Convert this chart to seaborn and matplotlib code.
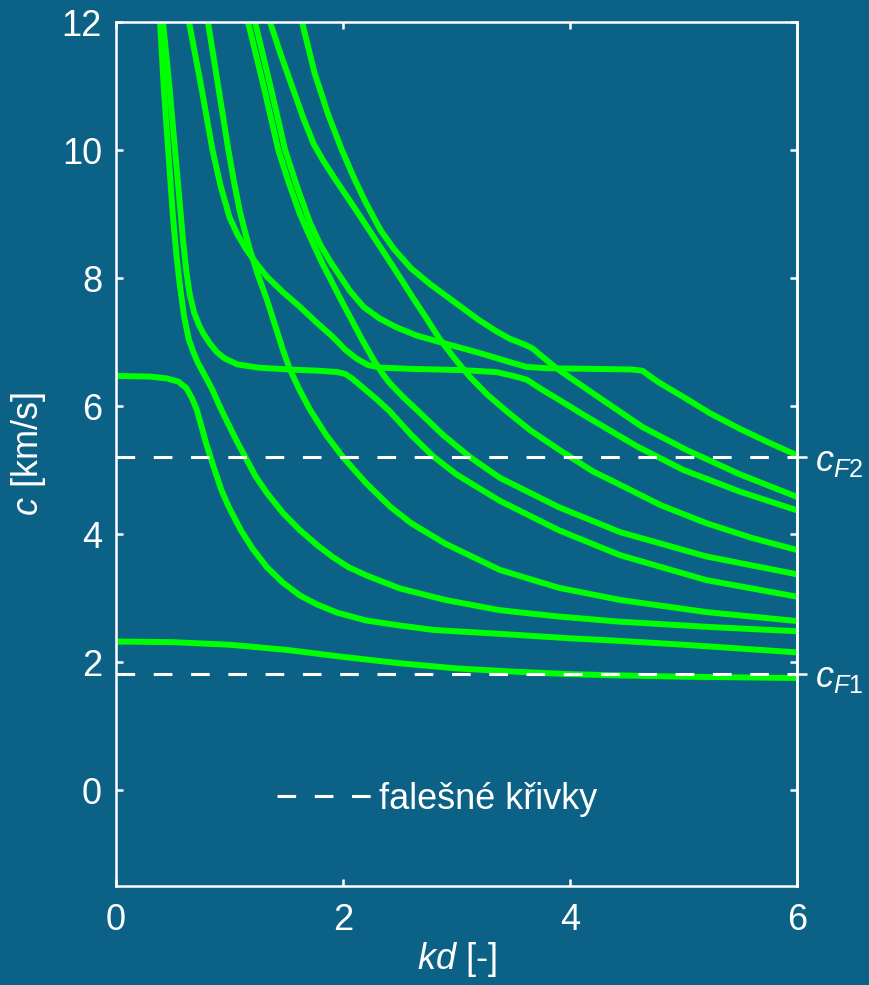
import matplotlib
matplotlib.use("Agg")
import numpy as np
import pandas as pd
import seaborn as sns
import matplotlib.pyplot as plt
from matplotlib import font_manager as fm
from matplotlib.lines import Line2D

# ---------------- data ----------------
kd_1 = [0, 0.5, 1.0, 1.5, 2.0, 2.5, 3.0, 3.5, 4.0, 4.44, 5.0, 6.0]
c_1 = [2.32, 2.31, 2.27, 2.19, 2.08, 1.98, 1.9, 1.85, 1.81, 1.79, 1.77, 1.75]

kd_2 = [0, 0.3, 0.45, 0.55, 0.62, 0.67, 0.71, 0.75, 0.8, 0.86, 0.93, 1.0, 1.1, 1.2,
        1.33, 1.47, 1.62, 1.77, 1.95, 2.2, 2.5, 2.8, 3.38, 4.0, 4.44, 5.0, 5.5, 6.0]
c_2 = [6.47, 6.46, 6.43, 6.38, 6.28, 6.12, 5.95, 5.7, 5.38, 5.05, 4.68, 4.4, 4.06, 3.78,
       3.48, 3.24, 3.04, 2.9, 2.77, 2.65, 2.57, 2.5, 2.44, 2.37, 2.33, 2.27, 2.21, 2.15]

kd_3 = [0.388, 0.42, 0.46, 0.5, 0.53, 0.56, 0.6, 0.64, 0.68, 0.72, 0.76, 0.8, 0.85, 0.92,
        1.0, 1.07, 1.14, 1.23, 1.33, 1.47, 1.62, 1.77, 1.91, 2.05, 2.21, 2.5, 2.9, 3.38,
        3.9, 4.44, 5.2, 6.0]
c_3 = [12, 11, 10, 9.0, 8.4, 7.92, 7.4, 7.05, 6.85, 6.68, 6.55, 6.42, 6.25, 5.97,
       5.68, 5.43, 5.2, 4.9, 4.64, 4.33, 4.06, 3.83, 3.64, 3.48, 3.35, 3.15, 2.97, 2.81,
       2.71, 2.63, 2.55, 2.48]

kd_4 = [0.414, 0.47, 0.52, 0.56, 0.59, 0.62, 0.65, 0.69, 0.73, 0.77, 0.83, 0.89, 0.96,
        1.07, 1.25, 1.53, 1.8, 1.95, 2.02, 2.08, 2.18, 2.3, 2.41, 2.6, 2.79, 3.0, 3.38,
        3.9, 4.44, 5.2, 6.0]
c_4 = [12, 11, 10, 9.2, 8.6, 8.1, 7.74, 7.45, 7.27, 7.13, 6.97, 6.84, 6.74,
       6.65, 6.6, 6.57, 6.55, 6.53, 6.5, 6.43, 6.28, 6.1, 5.92, 5.55, 5.22, 4.93, 4.52,
       4.06, 3.67, 3.28, 3.02]

kd_5 = [0.643, 0.75, 0.85, 0.92, 1.0, 1.07, 1.15, 1.24, 1.33, 1.47, 1.62, 1.77, 1.91,
        2.02, 2.12, 2.22, 2.33, 2.6, 3.06, 3.35, 3.5, 3.62, 3.75, 3.91, 4.13, 4.35, 4.59,
        5.0, 5.5, 6.0]
c_5 = [12, 11, 10, 9.45, 8.95, 8.68, 8.44, 8.22, 8.02, 7.78, 7.55, 7.3, 7.08,
       6.88, 6.74, 6.64, 6.6, 6.58, 6.56, 6.53, 6.47, 6.41, 6.26, 6.09, 5.85, 5.62, 5.37,
       5.0, 4.66, 4.37]

kd_6 = [0.81, 0.9, 0.99, 1.04, 1.09, 1.14, 1.18, 1.25, 1.33, 1.4, 1.47, 1.53, 1.62,
        1.71, 1.85, 2.0, 2.2, 2.42, 2.6, 2.9, 3.38, 3.9, 4.44, 5.2, 6.0]
c_6 = [12, 11, 10, 9.5, 9.05, 8.7, 8.44, 8.05, 7.66, 7.27, 6.88, 6.58, 6.24,
       5.94, 5.55, 5.2, 4.8, 4.42, 4.17, 3.85, 3.44, 3.16, 2.97, 2.78, 2.64]

kd_7 = [1.163, 1.3, 1.43, 1.52, 1.62, 1.72, 1.82, 1.89, 1.97, 2.06, 2.17, 2.27, 2.35,
        2.41, 2.53, 2.65, 2.88, 3.12, 3.38, 3.9, 4.44, 5.2, 6.0]
c_7 = [12, 11, 10, 9.5, 9.0, 8.6, 8.22, 7.98, 7.7, 7.4, 7.03, 6.72, 6.5,
       6.36, 6.14, 5.94, 5.55, 5.2, 4.88, 4.42, 4.03, 3.65, 3.37]

kd_8 = [1.225, 1.36, 1.49, 1.6, 1.71, 1.8, 1.89, 2.06, 2.18, 2.32, 2.47, 2.65, 2.85,
        3.2, 3.5, 3.62, 3.8, 4.2, 4.55, 4.64, 4.7, 4.79, 5.0, 5.23, 5.5, 5.75, 6.0]
c_8 = [12, 11, 10, 9.4, 8.86, 8.52, 8.25, 7.8, 7.55, 7.37, 7.23, 7.1, 7.0,
       6.83, 6.67, 6.61, 6.59, 6.58, 6.57, 6.55, 6.47, 6.36, 6.14, 5.89, 5.64, 5.43, 5.23]

kd_9 = [1.357, 1.45, 1.55, 1.65, 1.74, 1.82, 1.91, 2.1, 2.33, 2.48, 2.62, 2.75, 2.85,
        2.98, 3.12, 3.27, 3.44, 3.65, 3.91, 4.2, 4.44, 4.8, 5.2, 5.6, 6.0]
c_9 = [12, 11.5, 11.0, 10.5, 10.1, 9.85, 9.6, 9.1, 8.48, 8.07, 7.68, 7.33, 7.05,
       6.75, 6.45, 6.18, 5.92, 5.62, 5.31, 4.98, 4.77, 4.45, 4.17, 3.94, 3.75]

kd_10 = [1.639, 1.75, 1.87, 1.99, 2.1, 2.2, 2.33, 2.45, 2.6, 2.77, 3.0, 3.2, 3.35,
         3.47, 3.6, 3.67, 3.75, 3.88, 4.2, 4.64, 5.03, 5.5, 6.0]
c_10 = [12, 11.2, 10.55, 10.0, 9.55, 9.18, 8.75, 8.45, 8.15, 7.9, 7.6, 7.34, 7.17,
        7.05, 6.96, 6.9, 6.78, 6.59, 6.2, 5.67, 5.31, 4.93, 4.58]

curves = {
    "m1": (kd_1, c_1), "m2": (kd_2, c_2), "m3": (kd_3, c_3), "m4": (kd_4, c_4),
    "m5": (kd_5, c_5), "m6": (kd_6, c_6), "m7": (kd_7, c_7), "m8": (kd_8, c_8),
    "m9": (kd_9, c_9), "m10": (kd_10, c_10),
}

c_F_values = [5.2, 1.82]
c_F_labels = [r"$c_{F2}$", r"$c_{F1}$"]
x_ticks = [0, 2, 4, 6]
y_ticks = [0, 2, 4, 6, 8, 10, 12]
legend_label = "falešné křivky"

# ---------------- style ----------------
BG = "#0B6186"
GREEN = "#00FF00"
WHITE = "white"

sns.set_theme(style="ticks", rc={"axes.facecolor": BG, "figure.facecolor": BG})

names = {f.name for f in fm.fontManager.ttflist}
FONT = "Liberation Sans Narrow" if "Liberation Sans Narrow" in names else "Liberation Sans"
plt.rcParams["font.family"] = [FONT, "DejaVu Sans"]
plt.rcParams["mathtext.fontset"] = "custom"
plt.rcParams["mathtext.rm"] = FONT
plt.rcParams["mathtext.it"] = FONT + ":italic"
plt.rcParams["mathtext.sf"] = FONT
plt.rcParams["mathtext.bf"] = FONT + ":bold"

FS = 26
DASH_LW = 2.2

fig = plt.figure(figsize=(8.69, 9.85), dpi=100)
ax = fig.add_axes([116 / 869, 1 - 886 / 985, (797 - 116) / 869, (886 - 22) / 985])
ax.set_facecolor(BG)

rows = []
for name, (xs, ys) in curves.items():
    for x, y in zip(xs, ys):
        rows.append((name, x, y))
df = pd.DataFrame(rows, columns=["curve", "kd", "c"])

sns.lineplot(data=df, x="kd", y="c", units="curve", estimator=None, sort=False,
             color=GREEN, linewidth=4.3, ax=ax, legend=False,
             solid_capstyle="butt", solid_joinstyle="round")

dash = (0, (6.1, 6.1))
for cf in c_F_values:
    ax.axhline(cf, color=WHITE, linewidth=DASH_LW, linestyle=dash, zorder=3)

ax.set_xlim(0, 6)
ax.set_ylim(-1.5, 12)
ax.set_xticks(x_ticks)
ax.set_yticks(y_ticks)
ax.set_xticklabels([str(v) for v in x_ticks])
ax.set_yticklabels([str(v) for v in y_ticks])

for s in ax.spines.values():
    s.set_color(WHITE)
    s.set_linewidth(1.8)
    s.set_visible(True)

ax.tick_params(axis="both", which="both", direction="in", length=5, width=1.8,
               colors=WHITE, labelsize=FS, top=True, right=True,
               labeltop=False, labelright=False)
ax.tick_params(axis="x", pad=12)
ax.tick_params(axis="y", pad=10)

ax.set_xlabel(r"$kd$ [-]", color=WHITE, fontsize=FS, labelpad=2)
ax.set_ylabel(r"$c$ [km/s]", color=WHITE, fontsize=FS, labelpad=10)

sec = ax.secondary_yaxis("right")
sec.set_yticks(c_F_values)
sec.set_yticklabels(c_F_labels)
sec.tick_params(direction="out", length=7, width=1.8, colors=WHITE,
                labelsize=FS, pad=6)
sec.spines["right"].set_color(WHITE)
sec.spines["right"].set_linewidth(1.8)

handle = Line2D([], [], color=WHITE, linewidth=DASH_LW, linestyle=(0, (6.1, 6.1)))
leg = ax.legend([handle], [legend_label], loc="center",
                bbox_to_anchor=(0.472, 0.1), frameon=False, fontsize=FS,
                handlelength=2.63, handletextpad=0.2, labelcolor=WHITE)

fig.savefig("out.png", dpi=100, facecolor=BG)
